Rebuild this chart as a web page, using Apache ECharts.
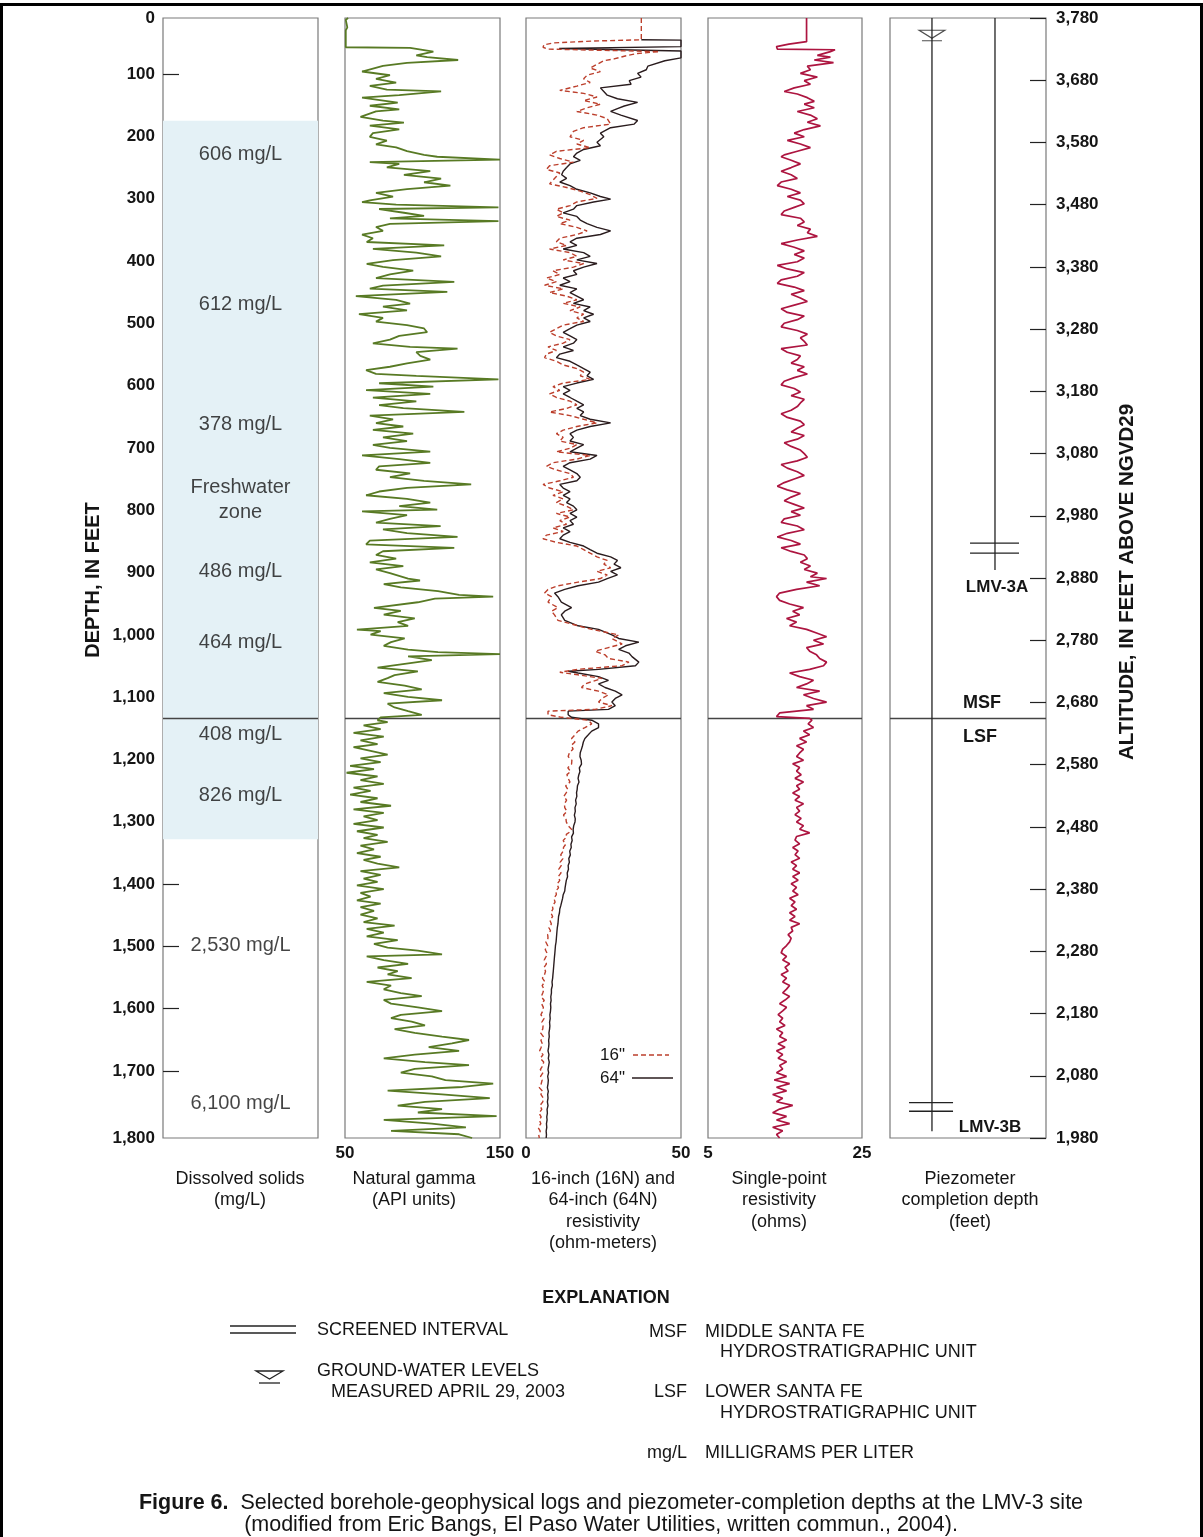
<!DOCTYPE html>
<html><head><meta charset="utf-8">
<script src="https://cdn.jsdelivr.net/npm/echarts@6/dist/echarts.min.js"></script>
<style>html,body{margin:0;padding:0;background:#fff}#c{width:1203px;height:1537px}</style>
</head><body><div id="c"></div>
<script>
// ---------------- DATA ----------------
const depthRange = [0, 1800];
const landSurfaceAltitude = 3780;          // altitude of depth 0, feet above NGVD29
const unitBoundaryDepth = 1126;            // MSF / LSF contact
const freshwaterZone = [165, 1320];        // shaded freshwater zone (depth, ft)

const dissolvedSolidsDepth = [220, 461, 654, 890, 1003, 1151, 1250, 1491, 1745];
const dissolvedSolidsLabel = ['606 mg/L','612 mg/L','378 mg/L','486 mg/L','464 mg/L','408 mg/L','826 mg/L','2,530 mg/L','6,100 mg/L'];
const freshwaterLabelDepth = 775;

// Natural gamma, [depth ft, API units]
const gamma = [[0,52],[3,50.5],[15,51.5],[20,50.5],[47,50.5],[48,92],[51,92],[54,107],[60,96],[63,103],[67.5,123],[72,90],[77,74.5],[86,61],[92,79],[98,70],[104,83],[109,66],[115,77],[118,112],[124,85],[128,61],[136,84],[141,66],[147,85],[150,70],[159,60],[165,74.5],[168,88],[173,66],[179,85],[185,68],[191,66],[197,77],[203,70],[208,83],[214,90],[220,101],[223,109.5],[227.5,150],[231.6,66],[234.5,85],[240,77],[246,105],[252,88],[258,112],[264,101],[269.5,118],[275,90],[281,70],[287,81],[293,66],[296,61],[300,83],[304.4,149],[307,72],[313,88],[318,101],[322,79],[326.5,149],[331,79],[336,70],[342,74.5],[348,61],[354,68],[360,64],[365.5,114],[371,68],[377,96],[383,112],[389,81],[395,64],[400,74.5],[406,94],[412,79],[418,70],[424,120.5],[430,74.5],[435,66],[440,116],[447,57],[453,83],[459,92],[464,74.5],[470,90],[476,59],[482,74.5],[488,70],[493.5,90],[499,101],[505,103],[511,85],[517,79],[523,68],[528.5,92],[531.4,122.6],[537,96],[543,98.6],[549,105],[555,90],[560.5,79],[566,63.6],[572,70],[575,96],[580.8,149],[587,72],[592.5,107],[598,63.6],[604,105],[610,68],[616,96],[622,72],[627,87.6],[633,127],[639,66],[645,81],[651,70],[656.5,87.6],[662,68],[668,94],[674,74.5],[680,90],[686,68],[691,79],[697,105],[703,61],[709,85],[715,105],[720.5,72],[726,70],[732,92],[738,79],[744,101],[749.6,131.4],[755,90],[761,72],[767,63.6],[773,90],[779,105],[784.5,85],[790,109.5],[793,61],[799,90],[805,79],[811,70],[816.5,111.7],[822,74.5],[828,90],[834,122.6],[840,66],[846,63.6],[851.5,120.5],[857,74.5],[863,70],[869,83],[875,66],[881,87.6],[886,70],[892,79],[901,90.7],[904,98.4],[910,75],[915,86],[921,110],[927,123.6],[930,145.6],[933,108],[939,97],[948,68.7],[953,86],[959,75],[965,95],[971,84],[977,90.7],[983,57.7],[985.5,73],[991,66.5],[997,88.5],[1003,79.7],[1009,75],[1015,90.7],[1019,110],[1022.3,150],[1026,90.7],[1032,106],[1038,88.5],[1044,71],[1050,97],[1056,82],[1061,77.5],[1067,71],[1073,88.5],[1079,99.5],[1085,75],[1091,90.7],[1096.5,112.6],[1102,77.5],[1108,82],[1114,90.7],[1120,99.5],[1124,73],[1128.6,71],[1131.5,77.5],[1137,62],[1143,73],[1149,55.5],[1155,75],[1161,60],[1167,71],[1172,55.5],[1178,66.5],[1184,77.5],[1190,60],[1196,73],[1202,53.3],[1207,68.7],[1213,51],[1219,71],[1225,60],[1231,75],[1237,55.5],[1242,66.5],[1248,53.3],[1254,71],[1260,60],[1266,79.7],[1272,55.5],[1277.5,75],[1283,62],[1289,71],[1295,55.5],[1301,75],[1307,57.7],[1313,71],[1318,62],[1324,77.5],[1330,60],[1336,68.7],[1342,57.7],[1348,73],[1353,62],[1359,71],[1365,85],[1371,60],[1377,73],[1383,62],[1388.5,71],[1394,57.7],[1400,75],[1406,60],[1412,66.5],[1418,57.7],[1423.5,73],[1429,60],[1435,68.7],[1441,60],[1447,71],[1453,62],[1458.6,82],[1464,64],[1470,75],[1476,64],[1482,84],[1488,68.7],[1494,77.5],[1499,97],[1505,112.6],[1508,64],[1514,75],[1520,90.7],[1526,71],[1532,84],[1537,77.5],[1543,93],[1549,64],[1555,79.7],[1561,75],[1567,86],[1572,99.5],[1578,75],[1584,79.7],[1590,97],[1596,112.6],[1602,86],[1607.5,79.7],[1613,93],[1619,101.6],[1625,82],[1631,95],[1637,112.6],[1642.5,130],[1648,119],[1654,104],[1660,123.6],[1666,95],[1672,75],[1678,101.6],[1683,130],[1689,95],[1695,86],[1701,106],[1707,114.8],[1712.6,145.6],[1718,125.8],[1724,77.5],[1730,112.6],[1736,143.4],[1742,101.6],[1748,84],[1753.5,112.6],[1759,97],[1765,147.8],[1771,75],[1777,106],[1783,128],[1788.5,79.7],[1794,123.6],[1800,132]];

// 64-inch normal resistivity, [depth ft, ohm-m]
const res64 = [[35,37.2],[35.5,50],[46,50],[49,10.7],[53,50],[64,50],[65.8,49.7],[68.7,44.8],[77.4,39.3],[83.2,38.8],[89,36],[94.9,37.1],[100.7,33.3],[106.5,33.9],[112.3,24],[118.1,25.1],[124,26.2],[129.8,29.5],[135.6,36],[141.4,31.7],[145.5,29.5],[150.2,27.3],[156,30.6],[164.7,36],[170.5,34.9],[176.3,27.3],[185.1,24],[190.9,25.1],[199.6,22.9],[205.4,24],[211.3,18.6],[217.1,16.4],[222.9,15.3],[228.7,17.5],[234.5,14.2],[240.4,13.1],[246.2,12],[252,11.5],[257.8,13.1],[263.6,10.9],[269.5,14.2],[275.3,16.4],[281.1,20.7],[286.9,24],[291,27.3],[295.7,21.8],[301.5,16.4],[307.3,15.3],[313.1,12],[318.9,16.4],[324.8,17.5],[330.6,19.7],[336.4,22.9],[342.2,27.3],[348,24],[353.9,16.4],[359.7,14.2],[365.5,16.4],[371.3,12],[377.1,18.6],[383,20.7],[388.8,16.4],[394.6,22.9],[400.4,18.6],[406.2,15.3],[412.1,16.4],[417.9,12],[423.7,14.2],[429.5,10.9],[435.3,16.4],[441.2,14.2],[447,16.4],[452.8,18.6],[458.6,15.3],[464.4,20.7],[470.3,18.6],[476.1,21.8],[481.9,18.6],[487.7,20.7],[493.5,16.4],[499.4,14.2],[505.2,12],[511,14.2],[516.8,16.4],[522.6,15.3],[528.5,12],[534.3,15.3],[540.1,10.9],[545.9,9.8],[551.7,14.2],[557.6,16.4],[563.4,18.6],[569.2,20.7],[575,19.7],[580.8,21.8],[586.7,16.4],[592.5,12],[598.3,14.2],[604.1,12],[609.9,14.2],[615.8,16.4],[621.6,18.6],[627.4,16.4],[633.2,18.6],[639,17.5],[644.9,20.7],[650.7,27.3],[656.5,20.7],[662.3,16.4],[668.1,14.2],[674,15.3],[679.8,14.2],[685.6,18.6],[691.4,16.4],[697.2,14.2],[703.1,22.9],[708.9,20.7],[714.7,14.2],[720.5,12],[726.3,14.2],[732.2,16.4],[738,17.5],[743.8,16.4],[749.6,10.9],[755.4,12],[761.3,14.2],[767.1,12],[772.9,14.2],[778.7,13.1],[784.5,15.3],[790.4,16.4],[796.2,14.2],[802,16.4],[807.8,14.2],[813.6,15.3],[819.5,12],[825.3,14.2],[831.1,12],[836.9,10.9],[842.7,14.2],[848.6,18.6],[854.4,20.7],[860.2,22.9],[866,27.3],[871.8,29.5],[877.7,28.4],[883.5,30.6],[889.3,27.3],[895.1,29.5],[900.9,26.2],[906.7,23.4],[912.5,16.8],[918.4,12.5],[924.2,9.2],[930,10.3],[938.8,11.4],[947.6,14.7],[953.4,12.5],[959.2,11.4],[968,12.5],[976.8,16.8],[982.6,23.4],[991.4,27.7],[997.2,29.9],[1003,36.4],[1008.9,32.1],[1014.7,29.9],[1020.6,33.2],[1026.4,34.2],[1035.2,36.4],[1041,35.3],[1046.8,23.4],[1049.8,13.6],[1052.7,16.8],[1058.5,23.4],[1064.4,26.6],[1070.2,23.4],[1076,25.5],[1081.9,28.8],[1087.7,31],[1093.6,28.8],[1099.4,27.7],[1105.2,28.8],[1111.1,26.6],[1114,13.6],[1119.8,13.6],[1123.9,14.7],[1128.6,21.2],[1134.4,23.4],[1140.3,23.4],[1146.1,21.2],[1152,20.1],[1157.8,19],[1163.6,18.5],[1170,18.2],[1175,17.9],[1181,17.5],[1187,17.4],[1193,17.8],[1199,17.9],[1205,17.2],[1211,17.4],[1217,17],[1222,16.8],[1228,17.1],[1234,16.6],[1240,16.5],[1245,16.3],[1251,16.4],[1257,16],[1263,16.2],[1269,15.8],[1275,15.9],[1281,15.6],[1287,15.9],[1292,15.8],[1298,15.4],[1304,15.2],[1310,15.3],[1316,14.7],[1322,14.9],[1328,14.5],[1333,14.6],[1339,14.1],[1345,14.3],[1351,13.8],[1357,14],[1362,13.6],[1368,13.7],[1374,13.3],[1380,13.4],[1386,13],[1392,12.8],[1398,12.6],[1403,12.5],[1409,12],[1415,11.8],[1421,11.5],[1427,11.2],[1432,10.9],[1438,10.8],[1444,10.5],[1450,10.4],[1456,10.3],[1462,10.1],[1467,10],[1473,9.9],[1479,9.8],[1485,9.7],[1491,9.5],[1497,9.4],[1503,9.3],[1508,9.2],[1514,9.1],[1520,9],[1526,8.9],[1532,8.8],[1537,8.7],[1543,8.6],[1549,8.4],[1555,8.5],[1561,8.2],[1567,8.2],[1573,8],[1579,8.1],[1584,7.9],[1590,8],[1596,7.9],[1602,7.7],[1608,7.8],[1614,7.6],[1620,7.7],[1625,7.6],[1631,7.4],[1637,7.5],[1643,7.3],[1649,7.4],[1654,7.3],[1660,7.1],[1666,7.4],[1672,7.2],[1678,7.5],[1684,7.3],[1690,7.1],[1695,7.3],[1701,7],[1707,7.2],[1713,7.1],[1719,6.9],[1725,7.2],[1730,7],[1736,7.1],[1742,6.9],[1748,7.1],[1754,6.8],[1760,6.9],[1766,6.7],[1771,6.8],[1777,6.6],[1783,6.7],[1789,6.5],[1795,6.6],[1800,6.5]];

// 16-inch normal resistivity, [depth ft, ohm-m]
const res16 = [[0,37.2],[35,37.2],[37,22],[40,9],[43,5.8],[47,5.5],[50,7],[52,25],[54,43],[57,36],[61,32],[65.8,28.4],[68.7,25.1],[74.5,22.9],[80.3,20.7],[86.1,24],[92,19.7],[97.8,18.6],[103.6,20.7],[109.4,16.4],[116.4,10.9],[121.1,18.6],[126.9,22.9],[132.7,18.6],[138.5,24],[144.3,19.7],[150.2,16.4],[156,22.9],[161.8,26.2],[170.5,27.3],[176.3,18.6],[182.2,15.3],[190.9,14.2],[196.7,18.6],[202.5,16.4],[208.4,20.7],[214.2,9.8],[220,7.6],[225.8,10.9],[231.6,15.3],[237.5,7.6],[243.3,6.6],[249.1,10.9],[254.9,9.8],[260.7,8.7],[266.6,7.6],[272.4,13.1],[278.2,17.5],[284,20.7],[289.8,22.9],[295.7,16.4],[301.5,14.2],[307.3,9.8],[313.1,12],[318.9,9.8],[324.8,14.2],[330.6,10.9],[336.4,16.4],[342.2,19.7],[348,16.4],[353.9,10.9],[359.7,9.8],[365.5,13.1],[371.3,7.6],[377.1,14.2],[383,16.4],[388.8,12],[394.6,18.6],[400.4,15.3],[406.2,8.7],[412.1,10.9],[417.9,6.6],[423.7,9.8],[429.5,6],[435.3,12],[441.2,7.6],[447,13.1],[452.8,16.4],[458.6,12],[464.4,17.5],[470.3,14.2],[476.1,18.6],[481.9,16.4],[487.7,18.6],[493.5,12],[499.4,9.8],[505.2,7.6],[511,9.8],[516.8,14.2],[522.6,12],[528.5,7.1],[534.3,9.8],[540.1,6.6],[545.9,6],[551.7,9.8],[557.6,12],[563.4,16.4],[569.2,18.6],[575,17.5],[580.8,20.7],[586.7,12],[592.5,8.7],[598.3,10.9],[604.1,7.6],[609.9,9.8],[615.8,14.2],[621.6,16.4],[627.4,13.1],[633.2,7.6],[639,14.2],[644.9,18.6],[650.7,22.9],[656.5,16.4],[662.3,12],[668.1,9.8],[674,12],[679.8,10.9],[685.6,16.4],[691.4,14.2],[697.2,9.8],[703.1,20.7],[708.9,16.4],[714.7,8.7],[720.5,6.6],[726.3,9.8],[732.2,14.2],[738,15.3],[743.8,10.9],[749.6,5.5],[755.4,7.6],[761.3,12],[767.1,8.7],[772.9,12],[778.7,9.8],[784.5,13.1],[790.4,15.3],[796.2,9.8],[802,14.2],[807.8,10.9],[813.6,13.1],[819.5,8.7],[825.3,12],[831.1,6.6],[836.9,5.5],[842.7,9.8],[848.6,16.4],[854.4,18.6],[860.2,20.7],[866,22.9],[871.8,26.2],[877.7,25.1],[883.5,27.3],[889.3,22.9],[895.1,26.2],[900.9,24],[906.7,16.8],[912.5,10.3],[918.4,7.1],[924.2,6],[930,8.2],[938.8,7.1],[947.6,10.3],[953.4,8.2],[959.2,9.2],[968,10.3],[976.8,16.8],[982.6,21.2],[991.4,29.9],[997.2,27.7],[1006,31],[1011.8,26.6],[1017.6,22.3],[1023.5,25.5],[1029.3,26.6],[1035.2,33.2],[1041,31],[1046.8,16.8],[1051.5,10.9],[1055.6,16.8],[1061.4,24.5],[1070.2,19],[1076,17.9],[1081.9,23.4],[1087.7,26.6],[1093.6,24.5],[1099.4,23.4],[1105.2,27.7],[1111.1,22.3],[1114,7.1],[1119.8,7.1],[1123.9,11.4],[1128.6,20.1],[1134.4,21.2],[1140.3,19],[1146.1,16.8],[1152,15.8],[1157.8,14.7],[1163.6,15.8],[1169,14.6],[1175,15.2],[1181,14],[1187,13.6],[1193,14.8],[1199,14.7],[1205,13.5],[1211,14.4],[1216,13.2],[1222,13.6],[1228,14.2],[1234,12.8],[1240,13.5],[1245,13],[1251,12.2],[1257,13.1],[1263,12.4],[1269,12.5],[1275,13.2],[1281,12.1],[1287,12.9],[1292,13],[1298,13.6],[1304,14.7],[1308,14.2],[1312,13],[1316,13.1],[1322,12],[1328,12.8],[1333,12.1],[1339,12],[1345,11.2],[1351,11.9],[1357,11],[1362,11.4],[1368,10.6],[1374,11.3],[1380,10.4],[1386,10.9],[1392,10],[1398,10.5],[1403,9.6],[1409,9.8],[1415,9],[1421,9.4],[1427,8.5],[1432,8.7],[1438,8],[1444,8.6],[1450,7.7],[1456,8.2],[1462,7.4],[1467,7.9],[1473,7],[1479,7.1],[1485,6.4],[1491,7],[1497,6.2],[1503,6.8],[1508,6.5],[1514,5.9],[1520,6.6],[1526,5.8],[1532,6.3],[1537,6],[1543,5.3],[1549,6.1],[1555,5.2],[1561,5.8],[1567,5.4],[1573,4.9],[1579,5.9],[1584,5],[1590,5.6],[1596,5.4],[1602,4.8],[1608,5.8],[1614,5.1],[1620,5.5],[1625,5.4],[1631,4.7],[1637,5.6],[1643,4.8],[1649,5.3],[1654,4.9],[1660,4.4],[1666,5.5],[1672,4.6],[1678,5.7],[1684,5.4],[1690,4.6],[1695,5.5],[1701,4.7],[1707,5.2],[1713,4.9],[1719,4.3],[1725,5.4],[1730,4.8],[1736,5.6],[1742,5.4],[1748,4.5],[1754,5.1],[1760,4.2],[1766,4.9],[1771,4.3],[1777,4.8],[1783,3.9],[1789,4.6],[1795,4.1],[1800,4.3]];

// Single-point resistivity, [depth ft, ohms]
const singlePoint = [[0,17.8],[38,17.8],[42,15.5],[46,13.9],[50,14],[51,21.5],[54,20.9],[60,19.2],[63,20.9],[67.5,18.8],[71.6,21.3],[77.4,17.9],[83.2,18.3],[89,17],[94.9,19.2],[100.7,17.5],[106.5,18.3],[112.3,16.2],[118.1,14.9],[122.2,16.6],[128,17.9],[133.9,18.8],[138.5,17.5],[144.3,18.8],[150.2,16.6],[156,18.3],[161.8,19.2],[167.6,17.9],[173.4,19.6],[179.3,17.5],[185.1,16.2],[190.9,17.5],[196.7,15.3],[202.5,17],[208.4,18.3],[214.2,16.6],[220,14.9],[222.9,14.5],[228.7,15.8],[234.5,17],[240.4,15.8],[246.2,14.5],[252,15.8],[257.8,16.6],[263.6,14.5],[269.5,14],[275.3,15.8],[281.1,17],[286.9,15.3],[292.7,17],[298.6,17.5],[304.4,16.2],[310.2,14.9],[316,14.5],[321.8,17],[327.7,17.5],[333.5,16.6],[339.3,18.3],[345.1,17.9],[350.9,19.2],[356.8,16.6],[362.6,14.5],[368.4,16.2],[374.2,17.5],[380,16.2],[385.9,17.5],[391.7,16.6],[397.5,14],[403.3,15.3],[409.1,17.5],[415,16.6],[420.8,14.5],[426.6,14],[432.4,16.2],[438.2,17.5],[444.1,15.8],[449.9,17],[455.7,17.9],[461.5,16.2],[467.3,14.5],[473.2,15.3],[479,17.5],[484.8,16.6],[490.6,14.9],[496.4,14.5],[502.3,16.6],[508.1,17.9],[513.9,17],[519.7,17.5],[525.5,17.9],[531.4,14.5],[537.2,15.3],[543,17],[548.8,16.6],[554.6,15.8],[560.5,17.5],[566.3,16.6],[572.1,17.9],[577.9,16.2],[583.7,14.9],[589.6,14.5],[595.4,16.2],[601.2,17],[607,15.8],[612.8,17.5],[618.7,17],[624.5,16.6],[630.3,15.8],[636.1,14.5],[641.9,15.3],[647.8,17],[653.6,17.5],[659.4,16.6],[665.2,15.8],[671,17.5],[676.9,16.6],[682.7,14.9],[688.5,15.8],[694.3,17],[700.1,17.5],[706,17.9],[711.8,16.6],[717.6,14.5],[723.4,15.3],[729.2,16.6],[735.1,17.5],[740.9,16.2],[746.7,14.9],[752.5,14],[758.3,15.3],[764.2,17],[770,15.8],[775.8,14.9],[781.6,16.2],[787.4,17.5],[793.3,15.8],[799.1,17],[804.9,14.9],[810.7,14.5],[816.5,16.6],[822.4,17.5],[828.2,15.3],[834,14],[839.8,15.8],[845.6,17],[851.5,14.5],[857.3,15.8],[863.1,17.5],[868.9,17.9],[874.7,17],[880.6,18.3],[886.4,17.5],[892.2,19.2],[898,18.3],[900.8,20.4],[906.7,17.8],[912.5,19.5],[918.4,16.5],[924.2,14.3],[930,13.9],[935.9,14.3],[941.7,15.6],[947.6,17.4],[953.4,16],[959.2,16.9],[965.1,15.2],[970.9,16.5],[976.8,15.6],[982.6,17.8],[988.4,19.1],[994.3,20.4],[1000.1,18.7],[1006,20],[1011.8,17.8],[1017.6,18.2],[1023.5,19.1],[1029.3,19.5],[1035.2,20.4],[1041,20],[1046.8,18.2],[1052.7,15.6],[1058.5,16.9],[1064.4,18.7],[1070.2,17.8],[1076,16.5],[1081.9,19.5],[1087.7,17.4],[1093.6,18.7],[1099.4,20.4],[1105.2,17.8],[1111.1,18.7],[1116.9,14.3],[1122.8,13.9],[1125.7,18.2],[1128.6,18.5],[1134.4,18],[1140.3,18.7],[1146.1,17.4],[1152,18.2],[1157.8,16.9],[1163.6,17.8],[1169.5,16.5],[1175.3,17.4],[1181.2,16.9],[1187,16.5],[1192.8,17.4],[1198.7,16],[1204.5,16.9],[1210.4,16.5],[1216.2,17.1],[1222,16.3],[1227.9,17.4],[1233.7,16.5],[1239.6,16.9],[1245.4,16],[1251.2,16.9],[1257.1,16.3],[1262.9,17.4],[1268.8,16.5],[1274.6,16.9],[1280.4,16.3],[1286.3,17.1],[1292.1,16.5],[1298,17.4],[1303.8,16.9],[1309.6,18.2],[1315.5,16.5],[1321.3,16.3],[1327.2,16.9],[1333,16],[1338.8,16.7],[1344.7,16.3],[1350.5,16.9],[1356.4,15.8],[1362.2,16.5],[1368,16],[1373.9,16.9],[1379.7,16],[1385.6,16.7],[1391.4,15.8],[1397.2,16.5],[1403.1,16],[1408.9,16.7],[1414.8,15.6],[1420.6,16.3],[1426.4,15.8],[1432.3,16.5],[1438.1,15.6],[1444,16.3],[1449.8,15.6],[1455.6,16.9],[1461.5,15.8],[1467.3,16],[1473.2,15.4],[1479,15.8],[1484.8,15.6],[1490.7,15.2],[1496.5,14.7],[1502.4,14.5],[1508.2,15.2],[1514,14.7],[1519.9,15.6],[1525.7,15],[1531.6,15.4],[1537.4,14.5],[1543.2,15.2],[1549.1,14.7],[1554.9,15.6],[1560.8,15.2],[1566.6,14.7],[1572.4,15.6],[1578.3,15],[1584.1,14.3],[1590,15.2],[1595.8,14.7],[1601.6,14.1],[1607.5,14.7],[1613.3,14.3],[1619.2,15],[1625,13.9],[1630.8,14.7],[1636.7,14.3],[1642.5,15.2],[1648.4,14.1],[1654.2,15],[1660,13.9],[1665.9,14.7],[1671.7,14.1],[1677.6,15.2],[1683.4,14.3],[1689.2,14.7],[1695.1,13.9],[1700.9,15.2],[1706.8,13.6],[1712.6,15.6],[1718.4,13.9],[1724.3,15.2],[1730.1,13.4],[1736,14.7],[1741.8,13.9],[1747.6,16],[1753.5,14.3],[1759.3,13.4],[1765.2,15.2],[1771,13.9],[1776.8,15.6],[1782.7,13.4],[1788.5,14.7],[1794.4,13.9],[1800,14.3]];

// Piezometers
const wells = ['LMV-3A', 'LMV-3B'];
const wellBottomDepth = [887, 1789];
const screenTopDepth = [844, 1743];
const screenBottomDepth = [860, 1757];
const waterLevelDepth = 33;
const resistivityLegend = ['16"', '64"'];

// ---------------- CHART ----------------
const FONT = "'Liberation Sans', Arial, Helvetica, sans-serif";
const TXT = '#151515';
const TOP = 18, H = 1120;
const panels = [[163,155],[345,155],[526,155],[708,154],[890,156]];
const xRanges = [[0,1],[50,150],[0,50],[5,25],[0,100]];
const wellX = [67.3, 26.9];          // casing position inside piezometer panel (0-100)
const screenX = [[51.3,82.7],[12.2,40.4]];
const fmt = v => Math.round(v).toLocaleString('en-US');
const C16 = '#bc3f2c', C64 = '#2a1c1e';

const grid = panels.map(([l,w]) => ({left:l, width:w, top:TOP, height:H, show:true,
  borderColor:'#7a7a7a', borderWidth:1.2, backgroundColor:'transparent'}));
grid.push({left:163, width:16, top:74, height:997, show:false});    // 5: depth ticks (inside panel 1)
grid.push({left:1030, width:16, top:TOP, height:H, show:false});    // 6: altitude ticks (inside panel 5)

const tickLabel = {fontSize:17, fontWeight:'bold', color:TXT, fontFamily:FONT};
const xAxis = xRanges.map((r,i) => {
  const showLab = (i>=1 && i<=3);
  return {gridIndex:i, type:'value', min:r[0], max:r[1], interval: i===3?5:50,
    show: showLab, axisLine:{show:false}, axisTick:{show:false}, splitLine:{show:false},
    axisLabel: Object.assign({margin:7, formatter: v => (v===r[0]||v===r[1]) ? String(v) : ''}, tickLabel)};
});
xAxis.push({gridIndex:5, type:'value', min:0, max:1, show:false});
xAxis.push({gridIndex:6, type:'value', min:0, max:1, show:false});

const yBase = {type:'value', inverse:true, min:depthRange[0], max:depthRange[1], splitLine:{show:false}, axisLine:{show:false}};
const tickLines = {show:true, lineStyle:{color:'#222', width:1.2}};
const yAxis = [
  Object.assign({}, yBase, {gridIndex:0, interval:1800, axisTick:{show:false},
    axisLabel:Object.assign({margin:8, formatter: fmt}, tickLabel)}),
  Object.assign({}, yBase, {gridIndex:1, show:false}),
  Object.assign({}, yBase, {gridIndex:2, show:false}),
  Object.assign({}, yBase, {gridIndex:3, show:false}),
  Object.assign({}, yBase, {gridIndex:4, show:false}),
  Object.assign({}, yBase, {gridIndex:5, min:100, max:1700, interval:100, position:'left',
    axisTick:{show:false}, splitLine:tickLines,
    axisLabel:Object.assign({margin:8, formatter: fmt}, tickLabel)}),
  Object.assign({}, yBase, {gridIndex:6, interval:100, position:'right',
    axisTick:{show:false}, splitLine:tickLines,
    axisLabel:Object.assign({margin:10, formatter: v => fmt(landSurfaceAltitude - v)}, tickLabel)})
];

const series = [];
// freshwater shading (behind everything)
series.push({type:'line', xAxisIndex:0, yAxisIndex:0, data:[], silent:true, z:-5,
  markArea:{silent:true, itemStyle:{color:'#e4f1f6'},
    data:[[{coord:[0, freshwaterZone[0]]},{coord:[1, freshwaterZone[1]]}]]}});
// dissolved solids labels
series.push({type:'scatter', xAxisIndex:0, yAxisIndex:0, symbolSize:1, itemStyle:{color:'transparent'},
  data: dissolvedSolidsDepth.map((d,i)=>({name:dissolvedSolidsLabel[i], value:[0.5,d]})),
  label:{show:true, position:'inside', formatter:p=>p.name, fontSize:20, color:TXT, fontFamily:FONT}, silent:true});
series.push({type:'scatter', xAxisIndex:0, yAxisIndex:0, symbolSize:1, itemStyle:{color:'transparent'},
  data:[{name:'Freshwater\nzone', value:[0.5, freshwaterLabelDepth]}],
  label:{show:true, position:'inside', formatter:p=>p.name, fontSize:20, lineHeight:25, color:TXT, fontFamily:FONT}, silent:true});
// unit boundary in each panel
xRanges.forEach((r,i)=>{
  series.push({type:'line', xAxisIndex:i, yAxisIndex:i, symbol:'none', silent:true,
    lineStyle:{color:'#444', width:1.5}, data:[[r[0],unitBoundaryDepth],[r[1],unitBoundaryDepth]]});
});
const flip = arr => arr.map(([d,v]) => [v,d]);
series.push({type:'line', name:'gamma', xAxisIndex:1, yAxisIndex:1, symbol:'none', data:flip(gamma),
  lineStyle:{color:'#587a24', width:1.8}});
series.push({type:'line', name:resistivityLegend[1], xAxisIndex:2, yAxisIndex:2, symbol:'none', data:flip(res64),
  lineStyle:{color:C64, width:1.4}});
series.push({type:'line', name:resistivityLegend[0], xAxisIndex:2, yAxisIndex:2, symbol:'none', data:flip(res16),
  lineStyle:{color:C16, width:1.4, type:[5,3]}});
series.push({type:'line', name:'spr', xAxisIndex:3, yAxisIndex:3, symbol:'none', data:flip(singlePoint),
  lineStyle:{color:'#ad1540', width:1.7}});
// piezometers
wells.forEach((w,i)=>{
  series.push({type:'line', xAxisIndex:4, yAxisIndex:4, symbol:'none', silent:true,
    lineStyle:{color:'#222', width:1.3}, data:[[wellX[i],0],[wellX[i],wellBottomDepth[i]]]});
  [screenTopDepth[i], screenBottomDepth[i]].forEach(d=>{
    series.push({type:'line', xAxisIndex:4, yAxisIndex:4, symbol:'none', silent:true,
      lineStyle:{color:'#222', width:1.3}, data:[[screenX[i][0],d],[screenX[i][1],d]]});
  });
});
series.push({type:'scatter', xAxisIndex:4, yAxisIndex:4, silent:true,
  symbol:'path://M0,0L26,0L13,8ZM3,10.5L23,10.5', symbolSize:[26,10.5], symbolOffset:[0,-3],
  itemStyle:{color:'rgba(0,0,0,0)', borderColor:'#222', borderWidth:1.3},
  data:[[wellX[1], waterLevelDepth]]});

// ---------------- TEXT / EXPLANATION ----------------
function T(x,y,text,opt){
  opt = opt||{};
  const size = opt.size||17, weight = opt.weight||'normal';
  return {type:'text', x:x, y:y, rotation:opt.rot||0, silent:true,
    style:{text:text, font:`${weight} ${size}px ${FONT}`, fill:TXT,
      textAlign:opt.align||'left', align:opt.align||'left',
      textVerticalAlign:opt.va||'middle', verticalAlign:opt.va||'middle',
      lineHeight:opt.lh||undefined, rich:opt.rich}};
}
function L(x1,y1,x2,y2,w,c,dash){return {type:'line', silent:true, shape:{x1,y1,x2,y2},
  style:{stroke:c||'#222', lineWidth:w||1.3, lineDash:dash||null}};}
const graphic = [
  L(0,4.5,1203,4.5,3,'#000'), L(1.5,4,1.5,1537,3,'#000'), L(1201.5,4,1201.5,1537,3,'#000'),
  T(93,580,'DEPTH, IN FEET',{size:20, weight:'bold', align:'center', rot:Math.PI/2}),
  T(1127,582,'ALTITUDE, IN FEET ABOVE NGVD29',{size:20.5, weight:'bold', align:'center', rot:Math.PI/2}),
  T(997,587,wells[0],{weight:'bold', align:'center'}),
  T(990,1127,wells[1],{weight:'bold', align:'center'}),
  T(982,703,'MSF',{weight:'bold', align:'center', size:18}),
  T(980,737,'LSF',{weight:'bold', align:'center', size:18}),
  // resistivity line key
  T(625,1055,resistivityLegend[0],{align:'right'}), L(633,1055,669,1055,1.4,C16,[5,3]),
  T(625,1078,resistivityLegend[1],{align:'right'}), L(632,1078,673,1078,1.4,C64),
  T(240,1168,'Dissolved solids\n(mg/L)',{align:'center', va:'top', lh:21.5, size:18}),
  T(414,1168,'Natural gamma\n(API units)',{align:'center', va:'top', lh:21.5, size:18}),
  T(603,1168,'16-inch (16N) and\n64-inch (64N)\nresistivity\n(ohm-meters)',{align:'center', va:'top', lh:21.5, size:18}),
  T(779,1168,'Single-point\nresistivity\n(ohms)',{align:'center', va:'top', lh:21.5, size:18}),
  T(970,1168,'Piezometer\ncompletion depth\n(feet)',{align:'center', va:'top', lh:21.5, size:18}),
  T(606,1298,'EXPLANATION',{weight:'bold', size:18, align:'center'}),
  L(230,1326,296,1326), L(230,1333,296,1333),
  T(317,1330,'SCREENED INTERVAL',{size:18}),
  {type:'polygon', silent:true, shape:{points:[[256,1371],[283,1371],[269.5,1379]]}, style:{fill:'none', stroke:'#222', lineWidth:1.3}},
  L(259,1383,280,1383),
  T(317,1371,'GROUND-WATER LEVELS',{size:18}),
  T(331,1392,'MEASURED APRIL 29, 2003',{size:18}),
  T(687,1332,'MSF',{size:18, align:'right'}),
  T(705,1332,'MIDDLE SANTA FE',{size:18}),
  T(720,1352,'HYDROSTRATIGRAPHIC UNIT',{size:18}),
  T(687,1392,'LSF',{size:18, align:'right'}),
  T(705,1392,'LOWER SANTA FE',{size:18}),
  T(720,1413,'HYDROSTRATIGRAPHIC UNIT',{size:18}),
  T(687,1453,'mg/L',{size:18, align:'right'}),
  T(705,1453,'MILLIGRAMS PER LITER',{size:18}),
  T(611,1503,'{b|Figure 6.}  Selected borehole-geophysical logs and piezometer-completion depths at the LMV-3 site',
    {size:21.5, align:'center', rich:{b:{fontWeight:'bold', fontSize:21.5, fontFamily:FONT, color:TXT}}}),
  T(601,1525,'(modified from Eric Bangs, El Paso Water Utilities, written commun., 2004).',{size:21.5, align:'center'})
];

const chart = echarts.init(document.getElementById('c'), null, {renderer:'canvas'});
chart.setOption({animation:false, backgroundColor:'#fff', grid, xAxis, yAxis, series, graphic});
</script></body></html>
